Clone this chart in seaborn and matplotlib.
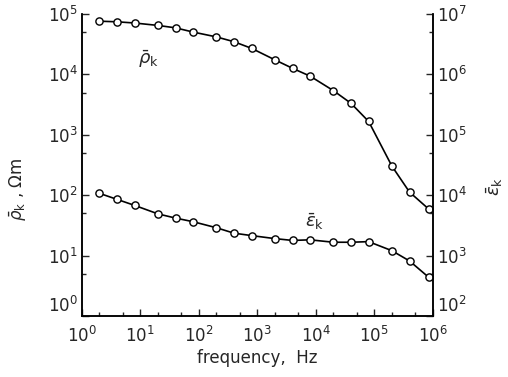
import matplotlib
matplotlib.use("Agg")
import matplotlib.pyplot as plt
import matplotlib.ticker as mticker
import seaborn as sns
import pandas as pd

# datos
freq = [2, 4, 8, 20, 40, 80, 200, 400, 800, 2e3, 4e3, 8e3, 2e4, 4e4, 8e4, 2e5, 4e5, 8.5e5]
rho_log = [4.88, 4.87, 4.85, 4.81, 4.77, 4.70, 4.62, 4.54, 4.43, 4.24, 4.10, 3.97,
           3.73, 3.52, 3.22, 2.48, 2.05, 1.77]
eps_log = [4.03, 3.93, 3.83, 3.69, 3.62, 3.56, 3.46, 3.37, 3.33, 3.28, 3.25, 3.26,
           3.22, 3.22, 3.23, 3.08, 2.91, 2.64]
rho_ticks = [1, 1e1, 1e2, 1e3, 1e4, 1e5]
eps_ticks = [1e2, 1e3, 1e4, 1e5, 1e6, 1e7]

df = pd.DataFrame({"f": freq,
                   "rho": [10 ** v for v in rho_log],
                   "eps": [10 ** v for v in eps_log]})

sns.set_style("ticks")
plt.rcParams["font.family"] = ["DejaVu Sans"]
plt.rcParams["mathtext.fontset"] = "dejavusans"

fig = plt.figure(figsize=(5.08, 3.77), dpi=100)
ax = fig.add_axes([0.161, 0.162, 0.691, 0.801])
ax2 = ax.twinx()

style = dict(color="black", linewidth=1.2, marker="o", markersize=5.2,
             markerfacecolor="white", markeredgecolor="black", markeredgewidth=1.0)
sns.lineplot(data=df, x="f", y="rho", ax=ax, **style)
sns.lineplot(data=df, x="f", y="eps", ax=ax2, **style)

for a in (ax, ax2):
    a.set_xscale("log")
    a.set_yscale("log")
    a.set_xlim(1, 1e6)
ax.set_ylim(1, 1e5)
ax2.set_ylim(1e2, 1e7)

ax.xaxis.set_major_locator(mticker.LogLocator(base=10, numticks=10))
ax.xaxis.set_minor_locator(mticker.LogLocator(base=10, subs=[2, 5], numticks=10))
ax.xaxis.set_minor_formatter(mticker.NullFormatter())
for a, tk in ((ax, rho_ticks), (ax2, eps_ticks)):
    a.yaxis.set_major_locator(mticker.FixedLocator(tk))
    a.yaxis.set_minor_locator(mticker.LogLocator(base=10, subs=[5], numticks=10))
    a.yaxis.set_minor_formatter(mticker.NullFormatter())
    a.tick_params(which="major", direction="in", length=5, width=1, labelsize=12, pad=3)
    a.tick_params(which="minor", direction="in", length=3, width=1)
    a.spines["top"].set_visible(False)
    for s in ("left", "right", "bottom"):
        a.spines[s].set_linewidth(1.1)
        a.spines[s].set_color("black")
ax.tick_params(axis="x", which="major", pad=7)

# etiqueta inferior de cada eje y por encima del eje x
ax.yaxis.get_major_ticks()[0].label1.set_va("bottom")
ax2.yaxis.get_major_ticks()[0].label2.set_va("bottom")

ax.set_xlabel("frequency,  Hz", fontsize=12, labelpad=2)
ax.set_ylabel(r"$\bar{\rho}_\mathrm{k}$ , $\Omega$m", fontsize=12)
ax.yaxis.set_label_coords(-0.15, 0.42)
ax2.set_ylabel(r"$\bar{\varepsilon}_\mathrm{k}$", fontsize=13)
ax2.yaxis.set_label_coords(1.148, 0.43)

ax.text(0.16, 0.835, r"$\bar{\rho}_\mathrm{k}$", transform=ax.transAxes, fontsize=13)
ax.text(0.635, 0.295, r"$\bar{\varepsilon}_\mathrm{k}$", transform=ax.transAxes, fontsize=13)

fig.savefig("out.png", dpi=100)
